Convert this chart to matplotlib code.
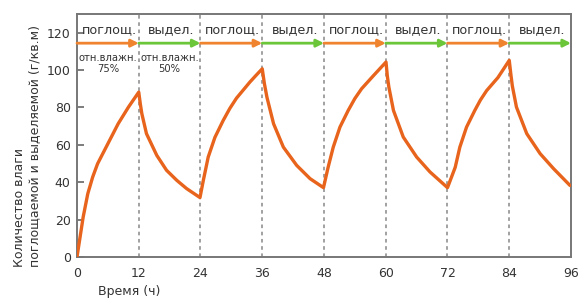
import matplotlib
matplotlib.use("Agg")
import matplotlib.pyplot as plt

# values
hours = [0, 0.6, 1.2, 2.1, 3.05, 4.0, 6.0, 8.0, 10.0, 12.0,
         12.3, 12.6, 13.5, 15.5, 17.4, 19.4, 21.3, 23.9,
         24.55, 25.5, 26.8, 28.4, 29.7, 31.0, 33.6, 34.8, 36.0,
         36.4, 36.9, 38.2, 40.1, 42.7, 45.3, 47.9,
         48.8, 49.8, 51.1, 52.7, 54.0, 55.3, 57.6, 60.05,
         60.3, 60.6, 61.5, 63.4, 66.0, 68.6, 72.0,
         73.5, 74.4, 75.7, 77.3, 78.4, 79.6, 81.8, 84.0,
         84.3, 84.6, 85.4, 87.4, 90.0, 92.6, 95.8]
moisture = [0, 10.7, 21.4, 33.9, 42.8, 49.9, 60.6, 71.3, 80.2, 88.2,
            82.0, 76.7, 66.0, 54.4, 46.4, 41.0, 36.6, 31.8,
            41.0, 53.5, 64.0, 73.0, 79.5, 85.0, 93.6, 97.2, 100.7,
            93.0, 85.6, 71.3, 58.8, 49.0, 41.9, 37.1,
            48.0, 58.8, 69.5, 78.4, 84.8, 90.0, 97.0, 104.3,
            97.0, 91.0, 78.4, 64.2, 53.5, 45.5, 37.1,
            48.0, 58.8, 69.5, 78.4, 84.0, 89.0, 96.0, 105.2,
            98.0, 91.5, 80.2, 66.0, 55.3, 47.3, 38.3]

phase_edges = [0, 12, 24, 36, 48, 60, 72, 84, 96]
phase_names = ['поглощ.', 'выдел.'] * 4
humidity_labels = ['отн.влажн.\n75%', 'отн.влажн.\n50%']

curve_color = '#E8641C'
absorb_color = '#F0832E'
release_color = '#6CC63A'

fig = plt.figure(figsize=(5.82, 3.0), dpi=100)
ax = fig.add_axes([0.1323, 0.1433, 0.8488, 0.81])

# phase separators
for t in phase_edges[1:-1]:
    ax.axvline(t, color='#9A9A9A', lw=1.3, linestyle=(0, (2, 2)), zorder=1)

ax.plot(hours, moisture, color=curve_color, lw=2.4, zorder=3,
        solid_joinstyle='round', solid_capstyle='round')

# phase arrows and names
for i, name in enumerate(phase_names):
    start, end = phase_edges[i], phase_edges[i + 1]
    c = absorb_color if i % 2 == 0 else release_color
    ax.annotate('', xy=(end, 114.4), xytext=(start, 114.4),
                arrowprops=dict(arrowstyle='-|>', color=c, lw=2.0,
                                mutation_scale=11, shrinkA=0, shrinkB=0),
                annotation_clip=False, zorder=4)
    ax.text((start + end) / 2 + 0.3, 121.5, name, ha='center', va='center',
            fontsize=9.2, color='#333333')

for i, lab in enumerate(humidity_labels):
    ax.text(6 + 12 * i, 103.5, lab, ha='center', va='center', fontsize=7.2,
            color='#333333', linespacing=1.1)

ax.set_xlim(0, 96)
ax.set_ylim(0, 130)
ax.set_xticks(phase_edges)
ax.set_yticks(range(0, 121, 20))
ax.tick_params(axis='x', length=0, pad=7, labelsize=9, labelcolor='#333333')
ax.tick_params(axis='y', direction='in', length=5, width=1.2, color='#666666',
               pad=4.5, labelsize=9, labelcolor='#333333')
for s in ax.spines.values():
    s.set_color('#777777')
    s.set_linewidth(1.4)

fig.text(27 / 582, 0.11, 'Количество влаги\nпоглощаемой и выделяемой (г/кв.м)',
         rotation=90, ha='center', va='bottom', multialignment='left',
         fontsize=9, color='#333333', linespacing=1.25)
fig.text(129.5 / 582, 8 / 300, 'Время (ч)', ha='center', va='center',
         fontsize=9, color='#333333')

fig.savefig('out.png', dpi=100)
